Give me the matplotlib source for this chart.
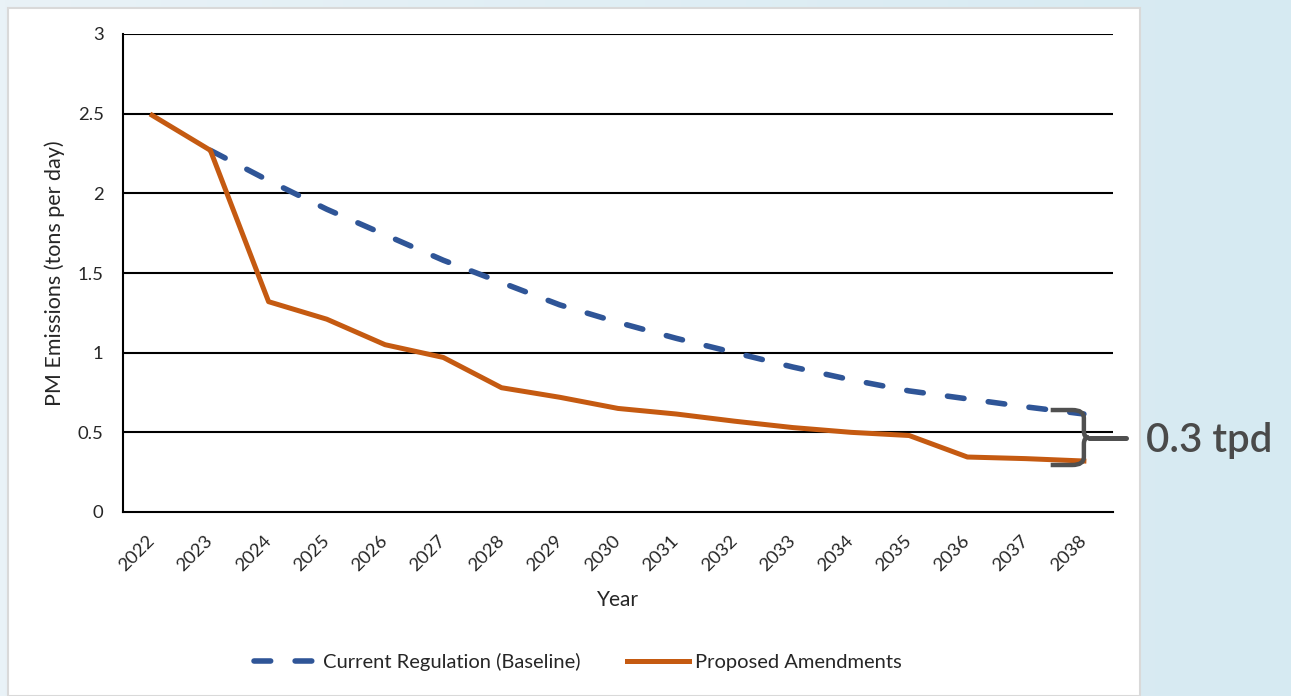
import numpy as np
import matplotlib
matplotlib.use("Agg")
import matplotlib.pyplot as plt
from matplotlib.path import Path
from matplotlib.patches import PathPatch, Rectangle
from matplotlib.colors import LinearSegmentedColormap

plt.rcParams['font.family'] = ['Lato', 'DejaVu Sans']

years = [str(y) for y in range(2022, 2039)]
baseline = [np.nan, 2.27, 2.08, 1.90, 1.74, 1.58, 1.44, 1.30, 1.19, 1.09, 1.00,
            0.91, 0.83, 0.76, 0.71, 0.66, 0.615]
proposed = [2.49, 2.27, 1.32, 1.21, 1.05, 0.97, 0.78, 0.72, 0.65, 0.615, 0.57,
            0.53, 0.50, 0.48, 0.345, 0.335, 0.32]
yticks = [0, 0.5, 1, 1.5, 2, 2.5, 3]
ytick_labels = ['0', '0.5', '1', '1.5', '2', '2.5', '3']
gap_label = '0.3 tpd'

W, H = 1291, 696
fig = plt.figure(figsize=(W / 100, H / 100), dpi=100)
TXT = '#262626'

# background gradient
bg = fig.add_axes([0, 0, 1, 1], zorder=-10)
cmap = LinearSegmentedColormap.from_list('bg', ['#e9f2f7', '#d6eaf2'])
grad = np.linspace(0, 1, 256).reshape(1, -1)
bg.imshow(grad, aspect='auto', cmap=cmap, extent=[0, 1, 0, 1])
bg.set_axis_off()
bg.add_patch(Rectangle((8 / W, 0), (1140 - 8) / W, (696 - 8) / H,
                       transform=bg.transAxes, facecolor='white',
                       edgecolor='#d9d9d9', lw=1.5, zorder=2))

ax = fig.add_axes([123 / W, (H - 512) / H, (1113 - 123) / W, (512 - 34) / H])
ax.set_facecolor('none')
x = np.arange(len(years))
l1, = ax.plot(x, baseline, color='#2F5597', lw=4.0, linestyle=(0, (3.0, 4.4)),
              dash_capstyle='round', zorder=3,
              label='Current Regulation (Baseline)')
l2, = ax.plot(x, proposed, color='#C55A11', lw=3.6, zorder=4,
              label='Proposed Amendments')

ax.set_xlim(-0.5, len(years) - 0.5)
ax.set_ylim(0, 3)
ax.set_yticks(yticks)
ax.set_yticklabels(ytick_labels, fontsize=13.3, color=TXT)
ax.set_xticks(x)
ax.set_xticklabels(years, rotation=45, ha='right', va='center',
                   rotation_mode='anchor', fontsize=13.3, color=TXT)
ax.tick_params(axis='both', length=0)
ax.tick_params(axis='y', pad=14)
ax.tick_params(axis='x', pad=19)
for yv in yticks[1:]:
    ax.axhline(yv, color='black', lw=1.5, zorder=1)
for s in ['top', 'right']:
    ax.spines[s].set_visible(False)
ax.spines['left'].set_linewidth(1.5)
ax.spines['bottom'].set_linewidth(1.5)
ax.set_xlabel('Year', fontsize=15, color=TXT)
ax.xaxis.set_label_coords(0.5, -(600 - 512) / (512 - 34))
ax.set_ylabel('PM Emissions (tons per day)', fontsize=15.5, color=TXT)
ax.yaxis.set_label_coords(-(123 - 55) / (1113 - 123), 0.5)
ax.yaxis.label.set_va('center')
ax.xaxis.label.set_va('center')

leg = fig.legend(handles=[l1, l2], loc='center',
                 bbox_to_anchor=(578 / W, (H - 662) / H), ncol=2,
                 frameon=False, fontsize=14.5, handlelength=3.1, columnspacing=2.3,
                 handletextpad=0.3)
for t in leg.get_texts():
    t.set_color(TXT)

# brace annotation between the two series at the last year
xe = len(years) - 1
top = baseline[-1] + 0.025
bot = proposed[-1] - 0.025
mid = (top + bot) / 2
xl, xv = xe - 0.57, xe
verts = [(xl, top), (xv - 0.2, top), (xv, top), (xv, top - 0.05),
         (xv, mid + 0.04), (xv, mid), (xv + 0.08, mid),
         (xv, mid), (xv, mid - 0.04),
         (xv, bot + 0.05), (xv, bot), (xv - 0.2, bot), (xl, bot)]
codes = [Path.MOVETO, Path.LINETO, Path.CURVE3, Path.CURVE3,
         Path.LINETO, Path.CURVE3, Path.CURVE3,
         Path.CURVE3, Path.CURVE3,
         Path.LINETO, Path.CURVE3, Path.CURVE3, Path.LINETO]
ax.add_patch(PathPatch(Path(verts, codes), facecolor='none', edgecolor='#505050',
                       lw=3.2, clip_on=False, zorder=6, capstyle='butt'))
ax.plot([xv + 0.08, xv + 0.72], [mid, mid], color='#505050', lw=3.6,
        solid_capstyle='round', clip_on=False, zorder=6)
ax.annotate(gap_label, (xv + 1.07, mid), xytext=(0, -2), textcoords='offset points',
            fontsize=29, color='#4a4a4a', fontweight='semibold',
            va='center', ha='left', annotation_clip=False)

fig.savefig('out.png', dpi=100)
